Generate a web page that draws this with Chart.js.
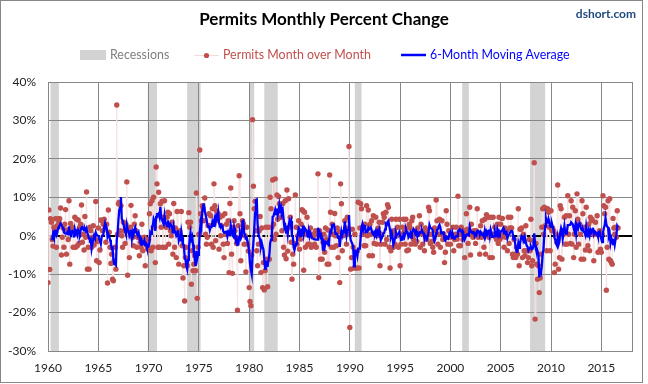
<!DOCTYPE html>
<html>
<head>
<meta charset="utf-8">
<script src="https://cdn.jsdelivr.net/npm/chart.js@4/dist/chart.umd.min.js"></script>
<style>
  html, body { margin: 0; padding: 0; background: #fff; }
  canvas { display: block; }
</style>
</head>
<body>
<canvas id="permitsChart" width="648" height="384"></canvas>
<script>
// monthly % change in building permits, Jan 1960 onward
const startYear = 1960;

const permits1960s = [
  -12.2, 6.7, -8.8, 4.4, 3.5, -1.0, -2.7, 2.2, 1.3, 4.4, -3.0, 2.6,   // 1960
  4.4, 3.5, 4.4, 7.2, -5.0, -0.4, 2.0, -3.0, 3.0, 6.8, -4.8, 1.5,     // 1961
  -1.0, 9.1, -7.4, 3.2, 1.3, 2.2, -3.0, 1.0, 4.8, -3.0, 4.3, -2.6,    // 1962
  4.1, -2.0, 2.2, 3.0, 8.0, -1.7, 0.4, -3.7, 5.0, -0.4, 11.4, -8.7,   // 1963
  -3.0, -8.7, 2.2, 1.3, -3.0, -0.4, 2.6, -2.4, -0.9, 8.9, -6.5, -1.5, // 1964
  2.0, -7.0, -3.7, 4.1, 3.9, 1.3, 3.0, 4.3, 2.6, -1.7, 3.0, -12.3,    // 1965
  6.7, 0.9, -3.0, -7.2, -4.8, -11.3, -11.7, -6.5, -3.0, -8.7, 34.0, 0.4, // 1966
  8.3, 8.7, 1.3, 7.8, 0.0, -3.0, 3.5, 1.3, -2.0, 3.0, 14.0, -10.3,    // 1967
  1.3, -5.7, 2.2, 7.9, 0.0, -0.4, -2.6, 3.0, 5.2, 1.3, -3.0, -0.4,    // 1968
  -0.4, -5.2, -1.7, -3.0, 3.0, -3.9, -1.7, -0.4, -7.8, -1.7, -2.6, -3.5 // 1969
];
const permits1970s = [
  -1.0, 5.7, 8.3, -3.9, 9.1, -3.0, 10.0, 2.2, -7.0, 17.9, 13.5, -3.0, // 1970
  11.3, -3.0, 8.3, 2.2, 9.0, -3.0, 4.8, 9.1, -3.0, 2.2, 4.8, 6.1,     // 1971
  -2.2, 5.7, 1.3, 0.0, 3.5, -4.8, 8.4, -3.0, 2.0, -5.7, 6.3, 0.5,     // 1972
  -7.4, 1.3, -0.4, 6.3, -2.6, -11.0, -7.8, -17.0, -5.7, -3.0, -7.8, 3.5, // 1973
  6.0, 2.2, 3.5, -12.6, -3.9, -9.1, -7.4, -5.2, -9.1, 11.1, -16.3, -3.0, // 1974
  0.4, 22.3, 5.7, 3.9, 7.8, 7.0, 3.9, 9.8, 0.4, -2.2, -0.4, 2.6,      // 1975
  5.7, 2.6, 5.2, -2.2, 7.0, -3.0, 13.5, 7.8, -1.3, 6.5, 4.0, 5.7,     // 1976
  -3.5, 4.8, 0.0, 2.6, 5.2, -2.2, -5.7, 5.7, 0.4, 3.0, -2.0, 3.9,     // 1977
  -9.6, 8.4, 12.4, -4.8, -9.8, 2.2, 3.9, 1.3, -0.4, -2.0, -19.4, 2.6, // 1978
  15.6, 5.7, -6.5, 1.3, 3.9, 3.2, -2.2, 0.0, -9.4, 2.2, -2.2, -4.0    // 1979
];
const permits1980s = [
  -13.5, -17.1, -18.2, -5.0, 30.2, 12.9, 7.0, 9.0, 1.3, -3.9, -7.8, -2.2, // 1980
  1.3, 5.0, -9.6, 2.0, -13.5, -7.0, -14.1, -9.1, 2.2, -6.1, -13.3, 2.2,  // 1981
  -6.1, 10.0, 7.0, 2.2, 14.5, 3.0, -1.0, 14.8, 0.4, 10.6, 4.3, 10.2,     // 1982
  8.3, 6.5, 4.8, 1.3, 8.4, -3.0, -5.0, 9.1, -6.0, 11.9, -4.0, 9.6,       // 1983
  2.2, 4.8, -1.7, -11.3, -4.8, -7.4, -2.0, 10.6, 2.2, -2.2, 0.0, 3.9,    // 1984
  -3.5, -0.9, 3.0, 6.8, 6.5, -9.0, 6.1, -3.0, 0.4, 4.8, -2.2, 1.0,       // 1985
  -2.2, 2.0, -3.0, 0.4, -2.6, 0.0, -2.2, 1.3, -3.0, 0.4, 16.1, -10.9,    // 1986
  1.3, -6.1, 0.0, -6.1, -1.7, 0.4, -4.3, 2.0, -1.0, -7.4, 1.5, -7.4,     // 1987
  15.8, 6.1, -3.0, 3.0, 0.4, -3.0, 5.8, 0.0, -2.6, 2.0, -5.7, 1.0,       // 1988
  -12.2, 13.5, 8.3, -3.9, 0.0, 0.4, 3.9, 2.0, -2.2, 4.8, 0.4, 23.2       // 1989
];
const permits1990s = [
  -23.9, -8.7, -5.7, 1.7, -3.0, -8.4, 0.4, -8.4, -8.4, -4.0, 8.7, -8.4, // 1990
  2.0, 8.3, 7.0, 0.5, 0.4, -2.6, 3.0, -2.6, 7.8, 0.0, 6.7, -5.2,        // 1991
  3.0, 0.4, 3.9, -5.2, 5.2, -2.0, 0.4, 4.8, -2.2, 0.0, 2.0, 3.5,        // 1992
  -7.8, -2.2, 0.4, 3.5, 5.7, 4.8, -2.2, 6.1, -1.0, 8.1, 7.4, -3.0,      // 1993
  -8.4, -3.9, 4.3, 0.4, -3.0, 1.3, -2.2, 4.3, 0.0, 2.2, -3.0, 4.3,      // 1994
  -7.8, -2.2, 0.4, 2.2, 4.3, 1.0, -2.2, 4.3, -3.9, 2.0, -3.7, 3.0,      // 1995
  2.0, -2.2, 3.9, 4.8, -1.0, 0.4, -2.2, 1.3, -1.5, 2.0, 0.4, 5.2,       // 1996
  -3.0, 3.0, 1.0, -2.2, 0.4, -3.9, 2.0, 1.3, -1.0, 0.4, 7.4, 6.5,       // 1997
  -2.0, 0.4, -1.5, -3.0, -4.3, 2.0, 1.3, 9.3, 3.9, -2.2, 0.4, 4.3,      // 1998
  -3.0, 0.4, 3.9, -1.0, 0.4, -7.0, -4.3, 6.5, 3.0, -2.2, 1.3, -0.4      // 1999
];
const permits2000s = [
  -2.2, 0.4, -0.4, 2.2, -3.9, -1.0, 0.4, 2.2, -0.9, 10.3, -2.6, 0.4,    // 2000
  -2.6, 2.2, 0.4, -1.0, 1.3, -5.7, 0.4, 5.7, 1.7, -2.0, 0.4, 7.4,       // 2001
  -5.0, 3.0, 0.4, -0.4, 1.3, 0.4, -2.0, 1.3, 7.0, -0.4, 0.4, -4.8,      // 2002
  2.6, -0.4, 3.9, 0.4, -3.0, 4.3, -4.8, 5.5, 0.4, 4.8, -0.4, -5.7,      // 2003
  4.8, 0.4, -5.7, 4.8, 0.4, 2.2, -0.4, -1.0, 3.0, -2.0, 4.8, -1.0,      // 2004
  3.0, -0.4, 4.5, 0.4, -3.0, 2.0, -0.4, 1.3, -3.9, 4.8, -2.0, 2.0,      // 2005
  4.8, 2.0, -4.8, -5.7, -1.0, -4.8, -5.7, -3.0, -4.8, 7.0, -7.8, 1.7,   // 2006
  1.7, 2.0, -5.7, 0.4, -3.9, -5.2, 2.6, -3.9, -7.0, -5.7, -1.0, -3.9,   // 2007
  4.3, -7.8, -6.5, -1.3, 19.0, -21.7, -2.0, -7.4, -11.3, -7.8, -14.8, -11.0, // 2008
  -4.8, 2.2, 7.0, 0.4, 7.4, 2.6, 7.0, -3.9, 7.0, 6.1, 2.2, -3.9         // 2009
];
const permits2010s = [
  6.5, 1.3, 2.0, 1.3, -9.6, -7.4, 0.4, -1.7, 13.2, -8.7, -5.7, 7.8,     // 2010
  7.0, -6.1, 1.3, 0.4, 4.8, -2.2, 5.2, -2.2, 10.4, 0.4, 5.2, -2.0,      // 2011
  9.1, -2.2, 7.4, -5.7, 0.4, 6.5, -3.0, 10.9, 4.3, -2.2, 3.0, 0.4,      // 2012
  -6.1, 9.1, 5.7, -6.1, 2.2, -3.7, 7.4, 0.4, -2.6, 3.0, -3.9, 4.8,      // 2013
  3.9, 4.3, 0.4, -6.5, 0.4, 3.5, 0.4, 5.2, -4.3, 0.4, 1.3, -3.5,        // 2014
  -4.3, 0.4, 10.4, 7.8, 5.7, 7.4, -14.2, -3.0, 9.1, -6.1, 9.6, -6.5,    // 2015
  -7.0, -7.4, 4.5, 2.0, 0.4, 2.2, -0.4, 6.5, 2.0                        // 2016 (to Sep)
];

// NBER recessions, decimal years
const recessionStarts = [1960.25, 1969.92, 1973.83, 1980.0, 1981.5, 1990.5, 2001.17, 2007.92];
const recessionEnds   = [1961.08, 1970.83, 1975.17, 1980.5, 1982.83, 1991.17, 2001.83, 2009.42];

const yearTicks = [1960, 1965, 1970, 1975, 1980, 1985, 1990, 1995, 2000, 2005, 2010, 2015];
const percentTicks = [-30, -20, -10, 0, 10, 20, 30, 40];

const momPct = [].concat(permits1960s, permits1970s, permits1980s, permits1990s, permits2000s, permits2010s);
const momPoints = momPct.map((v, i) => ({ x: startYear + i / 12, y: v }));

// 6-month moving average of the monthly series
const maPoints = [];
for (let i = 5; i < momPct.length; i++) {
    let sum = 0;
    for (let k = i - 5; k <= i; k++) sum += momPct[k];
    maPoints.push({ x: startYear + i / 12, y: sum / 6 });
}

const FONT = 'Lato, "Open Sans", sans-serif';
const GRID = '#878787';

const recessionBands = {
    id: 'recessionBands',
    beforeDraw(chart) {
        const { ctx, chartArea: a, scales: { x } } = chart;
        ctx.save();
        ctx.fillStyle = '#fff';
        ctx.fillRect(0, 0, chart.width, chart.height);
        ctx.fillStyle = '#d3d3d3';
        recessionStarts.forEach((s, i) => {
            const x0 = x.getPixelForValue(s);
            const x1 = x.getPixelForValue(recessionEnds[i]);
            ctx.fillRect(x0, a.top, x1 - x0, a.bottom - a.top);
        });
        ctx.restore();
    }
};

const plotFrame = {
    id: 'plotFrame',
    beforeDatasetsDraw(chart) {
        const { ctx, chartArea: a } = chart;
        ctx.save();
        ctx.strokeStyle = GRID;
        ctx.lineWidth = 1;
        ctx.beginPath();
        ctx.moveTo(Math.round(a.right) + 0.5, a.top);
        ctx.lineTo(Math.round(a.right) + 0.5, a.bottom);
        ctx.stroke();
        ctx.restore();
    }
};

const header = {
    id: 'header',
    afterDraw(chart) {
        const { ctx } = chart;
        ctx.save();
        ctx.textBaseline = 'middle';

        ctx.fillStyle = '#000';
        ctx.textAlign = 'center';
        ctx.font = 'bold 17px ' + FONT;
        ctx.fillText('Permits Monthly Percent Change', 324, 20);

        ctx.fillStyle = '#1F497D';
        ctx.textAlign = 'right';
        ctx.font = 'bold 12px ' + FONT;
        ctx.fillText('dshort.com', 636, 14);

        // legend
        ctx.textAlign = 'left';
        ctx.font = '12.4px ' + FONT;
        const ly = 55;
        ctx.fillStyle = '#d3d3d3';
        ctx.fillRect(80, ly - 5, 26, 10);
        ctx.fillStyle = '#808080';
        ctx.fillText('Recessions', 110, ly);

        ctx.strokeStyle = '#F2DCDB';
        ctx.lineWidth = 1;
        ctx.beginPath();
        ctx.moveTo(194, ly + 0.5);
        ctx.lineTo(219, ly + 0.5);
        ctx.stroke();
        ctx.fillStyle = '#C0504D';
        ctx.beginPath();
        ctx.arc(206.5, ly + 0.5, 2.6, 0, Math.PI * 2);
        ctx.fill();
        ctx.fillText('Permits Month over Month', 223, ly);

        ctx.strokeStyle = '#0000FF';
        ctx.lineWidth = 2.5;
        ctx.beginPath();
        ctx.moveTo(401, ly);
        ctx.lineTo(426, ly);
        ctx.stroke();
        ctx.fillStyle = '#0000FF';
        ctx.fillText('6-Month Moving Average', 430, ly);

        // outer chart border
        ctx.strokeStyle = GRID;
        ctx.lineWidth = 1;
        ctx.strokeRect(0.5, 0.5, 642, 382);
        ctx.restore();
    }
};

const ctx = document.getElementById('permitsChart').getContext('2d');
new Chart(ctx, {
    type: 'line',
    data: {
        datasets: [
            {
                label: '6-Month Moving Average',
                data: maPoints,
                borderColor: '#0000FF',
                borderWidth: 2.3,
                pointRadius: 0,
                tension: 0,
                order: 0
            },
            {
                label: 'Permits Month over Month',
                data: momPoints,
                borderColor: '#F6E3E3',
                borderWidth: 1,
                pointRadius: 2.7,
                pointBackgroundColor: '#C0504D',
                pointBorderWidth: 0,
                tension: 0,
                order: 1
            }
        ]
    },
    options: {
        responsive: false,
        animation: false,
        events: [],
        layout: { padding: { left: 8, right: 16, top: 82, bottom: 8 } },
        plugins: {
            legend: { display: false },
            title: { display: false },
            tooltip: { enabled: false }
        },
        scales: {
            x: {
                type: 'linear',
                min: 1960,
                max: 2018.05,
                afterBuildTicks: scale => {
                    scale.ticks = yearTicks.map(v => ({ value: v }));
                },
                afterFit: scale => { scale.height = 25; },
                grid: { color: GRID, drawTicks: false },
                border: { color: GRID },
                ticks: {
                    padding: 10,
                    color: '#222',
                    font: { family: FONT, size: 12 },
                    maxRotation: 0,
                    callback: v => String(v)
                }
            },
            y: {
                min: -30,
                max: 40,
                afterBuildTicks: scale => {
                    scale.ticks = percentTicks.map(v => ({ value: v }));
                },
                afterFit: scale => { scale.width = 40; },
                grid: {
                    drawTicks: false,
                    color: c => (c.tick && c.tick.value === 0 ? '#000' : GRID),
                    lineWidth: c => (c.tick && c.tick.value === 0 ? 2 : 1)
                },
                border: { color: GRID },
                ticks: {
                    padding: 12,
                    color: '#222',
                    font: { family: FONT, size: 12 },
                    callback: v => v + '%'
                }
            }
        }
    },
    plugins: [recessionBands, plotFrame, header]
});
</script>
</body>
</html>
